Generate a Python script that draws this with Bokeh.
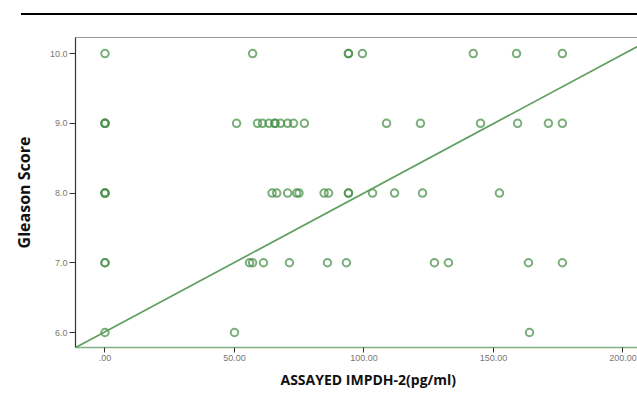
from bokeh.plotting import figure
from bokeh.models import Div, Slope, LinearAxis, FixedTicker
from bokeh.layouts import column
from bokeh.embed import file_html
from bokeh.resources import INLINE

# ---- data ----
impdh2_g10 = [0, 57.0, 94.0, 94.0, 99.4, 142.2, 158.9, 176.6]
impdh2_g9 = [0, 0, 0, 50.8, 58.9, 60.8, 63.3, 65.6, 65.6, 67.8, 70.5, 72.8, 77.0,
             108.7, 121.8, 145.0, 159.3, 171.2, 176.6]
impdh2_g8 = [0, 0, 0, 64.5, 66.3, 70.5, 74.0, 74.9, 84.6, 86.3, 94.0, 94.0,
             103.3, 111.8, 122.6, 152.3]
impdh2_g7 = [0, 0, 55.8, 57.0, 61.2, 71.2, 85.9, 93.2, 127.2, 132.6, 163.5, 176.6]
impdh2_g6 = [0, 50.0, 163.9]

gleason_levels = [10, 9, 8, 7, 6]
fit_intercept = 6.01
fit_slope = 0.0199

x_ticks = [0, 50, 100, 150, 200]
x_tick_labels = [".00", "50.00", "100.00", "150.00", "200.00"]
y_ticks = [6, 7, 8, 9, 10]
y_tick_labels = ["6.0", "7.0", "8.0", "9.0", "10.0"]

x_vals = []
y_vals = []
for lvl, arr in zip(gleason_levels, [impdh2_g10, impdh2_g9, impdh2_g8, impdh2_g7, impdh2_g6]):
    x_vals += arr
    y_vals += [lvl] * len(arr)

GREEN = "#478f47"

p = figure(width=637, height=376, output_backend="svg", toolbar_location=None,
           x_range=(-11.39, 205.6), y_range=(5.785, 10.23),
           min_border_left=75, min_border_right=0, min_border_top=17, min_border_bottom=49)
p.outline_line_color = None
p.xgrid.visible = False
p.ygrid.visible = False
p.background_fill_color = "white"
p.border_fill_color = "white"

p.scatter(x_vals, y_vals, marker="circle", size=7.5, fill_color=None,
          line_color=GREEN, line_width=2.0, line_alpha=0.72)

p.add_layout(Slope(gradient=fit_slope, y_intercept=fit_intercept,
                   line_color="#5f9f5f", line_width=1.7))

# x axis
xa = p.xaxis[0]
xa.ticker = FixedTicker(ticks=x_ticks)
xa.major_label_overrides = {t: l for t, l in zip(x_ticks, x_tick_labels)}
xa.minor_tick_line_color = None
xa.major_tick_in = 0
xa.major_tick_out = 5
xa.major_tick_line_color = "#333333"
xa.axis_line_color = "#7fb07f"
xa.axis_line_width = 1.5
xa.major_label_text_font = "Liberation Sans"
xa.major_label_text_font_size = "9px"
xa.major_label_text_color = "#777777"
xa.major_label_standoff = 2

# y axis
ya = p.yaxis[0]
ya.ticker = FixedTicker(ticks=y_ticks)
ya.major_label_overrides = {t: l for t, l in zip(y_ticks, y_tick_labels)}
ya.minor_tick_line_color = None
ya.major_tick_in = 0
ya.major_tick_out = 6
ya.major_tick_line_color = "#333333"
ya.axis_line_color = "#333333"
ya.axis_line_width = 1.2
ya.major_label_text_font = "Liberation Sans"
ya.major_label_text_font_size = "9px"
ya.major_label_text_color = "#777777"
ya.major_label_standoff = 2
ya.axis_label = "Gleason Score"
ya.axis_label_text_font = "Open Sans"
ya.axis_label_text_font_style = "bold"
ya.axis_label_text_font_size = "16px"
ya.axis_label_text_color = "#111111"
ya.axis_label_standoff = 12

# top frame line
top = LinearAxis(ticker=FixedTicker(ticks=[]), major_label_text_font_size="0px",
                 major_tick_out=0, major_tick_in=0, minor_tick_out=0, minor_tick_in=0,
                 axis_line_color="#999999", axis_line_width=1.2)
p.add_layout(top, "above")

# x axis label (as a below-title, shifted like the cropped original)
p.title.text = "ASSAYED IMPDH-2(pg/ml)"
p.title_location = "below"
p.title.align = "left"
p.title.offset = 205
p.title.text_font = "Open Sans"
p.title.text_font_style = "bold"
p.title.text_font_size = "14px"
p.title.text_color = "#111111"
p.title.standoff = 8

line_div = Div(width=637, height=10,
               text='<div style="position:absolute;left:16px;top:8px;width:621px;height:2px;background:#000;"></div>',
               styles={"position": "relative"})

layout = column(line_div, p, spacing=0)

open("out.html", "w").write(file_html(layout, INLINE))
